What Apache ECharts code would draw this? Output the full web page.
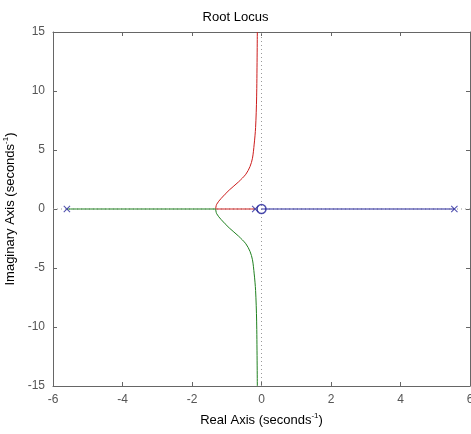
<!DOCTYPE html>
<html>
<head>
<meta charset="utf-8">
<script src="https://cdn.jsdelivr.net/npm/echarts@6/dist/echarts.min.js"></script>
<style>
html, body { margin: 0; padding: 0; background: #fff; }
#chart { width: 471px; height: 434px; }
</style>
</head>
<body>
<div id="chart"></div>
<script>
// branch data [real, imag]
var redBranch = [[-0.18, 0], [-1.32, 0], [-1.29, 0.4], [-1.16, 0.9], [-0.93, 1.6], [-0.66, 2.3], [-0.45, 2.95],
    [-0.33, 3.6], [-0.26, 4.3], [-0.21, 5.5], [-0.17, 6.9], [-0.14, 9.5], [-0.12, 15]];
var greenAxis = [[-5.6, 0], [-1.32, 0]];
var greenBranch = [[-1.32, 0], [-1.29, -0.4], [-1.16, -0.9], [-0.93, -1.6], [-0.66, -2.3], [-0.45, -2.95],
    [-0.33, -3.6], [-0.26, -4.3], [-0.21, -5.5], [-0.17, -6.9], [-0.14, -9.5], [-0.12, -15]];
var blueBranch = [[5.55, 0], [0, 0]];
var poles = [[-5.6, 0], [-0.18, 0], [5.55, 0]];
var zeros = [[0, 0]];
var xTicks = [-6, -4, -2, 0, 2, 4, 6];
var yTicks = [-15, -10, -5, 0, 5, 10, 15];

var chart = echarts.init(document.getElementById('chart'));
var xSym = 'path://M0,1L1,0L5,4L9,0L10,1L6,5L10,9L9,10L5,6L1,10L0,9L4,5Z';
var axisCol = '#666';
var labelStyle = { color: '#555', fontFamily: 'Liberation Sans', fontSize: 12 };

function lineSeries(data, color) {
    return {
        type: 'line', data: data, showSymbol: false, symbol: 'none', smooth: 0.3, animation: false,
        lineStyle: { color: color, width: 1 }, z: 3
    };
}

var option = {
    animation: false,
    title: {
        text: 'Root Locus', left: 'center', top: 6,
        textStyle: { color: '#000', fontFamily: 'Liberation Sans', fontSize: 13, fontWeight: 'normal' }
    },
    grid: { left: 53, top: 32, right: 1, bottom: 48, outerBoundsMode: 'none', containLabel: false },
    xAxis: [{
        type: 'value', min: xTicks[0], max: xTicks[xTicks.length - 1], interval: 2,
        name: 'Real Axis (seconds{s|-1})', nameLocation: 'middle', nameGap: 26,
        nameTextStyle: {
            color: '#000', fontFamily: 'Liberation Sans', fontSize: 13,
            rich: { s: { fontSize: 8, verticalAlign: 'top', padding: [0, 0, 8, 0], color: '#000' } }
        },
        axisLine: { onZero: false, lineStyle: { color: axisCol } },
        axisTick: { inside: true, length: 4, lineStyle: { color: axisCol } },
        axisLabel: labelStyle,
        splitLine: { show: false }
    }, {
        type: 'value', min: xTicks[0], max: xTicks[xTicks.length - 1], interval: 2, position: 'top',
        axisLine: { onZero: false, lineStyle: { color: axisCol } },
        axisTick: { inside: true, length: 4, lineStyle: { color: axisCol } },
        axisLabel: { show: false }, splitLine: { show: false }
    }],
    yAxis: [{
        type: 'value', min: yTicks[0], max: yTicks[yTicks.length - 1], interval: 5,
        name: 'Imaginary Axis (seconds{s|-1})', nameLocation: 'middle', nameGap: 32,
        nameTextStyle: {
            color: '#000', fontFamily: 'Liberation Sans', fontSize: 13,
            rich: { s: { fontSize: 8, verticalAlign: 'top', padding: [0, 0, 8, 0], color: '#000' } }
        },
        axisLine: { onZero: false, lineStyle: { color: axisCol } },
        axisTick: { inside: true, length: 4, lineStyle: { color: axisCol } },
        axisLabel: labelStyle,
        splitLine: { show: false }
    }, {
        type: 'value', min: yTicks[0], max: yTicks[yTicks.length - 1], interval: 5, position: 'right',
        axisLine: { onZero: false, lineStyle: { color: axisCol } },
        axisTick: { inside: true, length: 4, lineStyle: { color: axisCol } },
        axisLabel: { show: false }, splitLine: { show: false }
    }],
    series: [
        {
            type: 'line', data: [[0, -15], [0, 15]], symbol: 'none',
            lineStyle: { color: '#999', width: 1, type: [1, 3] }, z: 2
        },
        {
            type: 'line', data: [[-6, 0], [6, 0]], symbol: 'none',
            lineStyle: { color: '#999', width: 1, type: [1, 3] }, z: 2
        },
        lineSeries(redBranch, '#cc1c1c'),
        lineSeries(greenAxis, '#1f801f'),
        lineSeries(greenBranch, '#1f801f'),
        lineSeries(blueBranch, '#22229a'),
        {
            type: 'scatter', data: poles, symbol: xSym, symbolSize: 7,
            itemStyle: { color: '#22229a' }, z: 5
        },
        {
            type: 'scatter', data: zeros, symbol: 'circle', symbolSize: 9,
            itemStyle: { color: 'rgba(0,0,0,0)', borderColor: '#22229a', borderWidth: 1.5 }, z: 5
        }
    ]
};
chart.setOption(option);
window.onresize = function(){
    chart.resize();
}
</script>
</body>
</html>
